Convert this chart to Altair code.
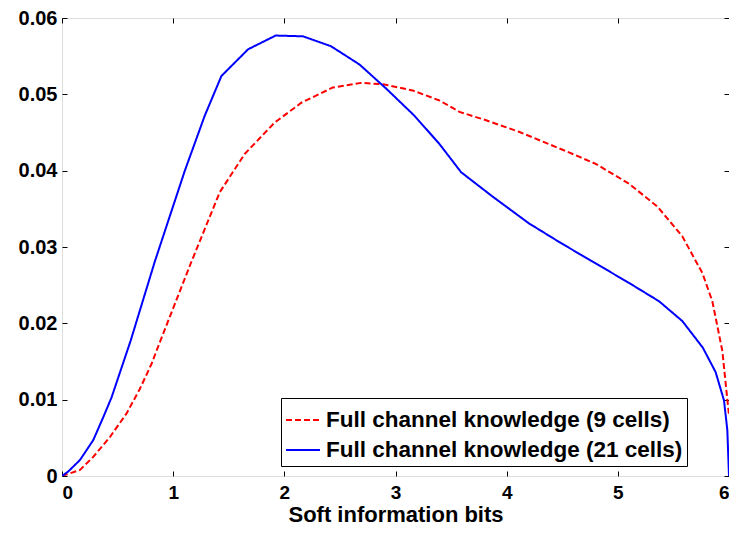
import altair as alt
import pandas as pd

# Red dashed series: Full channel knowledge (9 cells)
red_x = [0.0, 0.162, 0.281, 0.431, 0.581, 0.70, 0.806, 0.874, 1.165, 1.42, 1.644, 1.913,
         2.153, 2.437, 2.69, 2.9, 3.155, 3.395, 3.575, 3.815, 4.11, 4.56, 4.80,
         5.10, 5.356, 5.58, 5.76, 5.85, 5.94, 5.985, 6.0]
red_y = [0.0, 0.0008, 0.0025, 0.0051, 0.0082, 0.0114, 0.0147, 0.0173, 0.0281, 0.0372,
         0.0422, 0.0463, 0.0489, 0.0509, 0.0515, 0.0513, 0.0505, 0.0492, 0.0477,
         0.0466, 0.0451, 0.0424, 0.0409, 0.0383, 0.0353, 0.0314, 0.0266, 0.0229,
         0.0164, 0.0100, 0.0080]

# Blue solid series: Full channel knowledge (21 cells)
blue_x = [0.0, 0.057, 0.162, 0.281, 0.371, 0.446, 0.536, 0.617, 0.835, 1.105, 1.284,
          1.434, 1.674, 1.922, 2.168, 2.42, 2.677, 2.92, 3.17, 3.395, 3.59, 3.874,
          4.2, 4.49, 5.10, 5.37, 5.58, 5.765, 5.88, 5.955, 5.985, 6.0]
blue_y = [0.0, 0.0006, 0.0021, 0.0047, 0.0077, 0.0103, 0.0142, 0.0177, 0.0281, 0.0400,
          0.0472, 0.0524, 0.0559, 0.0577, 0.0576, 0.0563, 0.0539, 0.0507, 0.0472,
          0.0435, 0.0398, 0.0366, 0.0331, 0.0305, 0.0253, 0.0229, 0.0203, 0.0168,
          0.0136, 0.0099, 0.0060, 0.0]

series_names = ["Full channel knowledge (9 cells)", "Full channel knowledge (21 cells)"]
series_colors = ["#ff0000", "#0000ff"]
x_ticks = [0, 1, 2, 3, 4, 5, 6]
y_ticks = [0, 0.01, 0.02, 0.03, 0.04, 0.05, 0.06]

rows = []
for i, (xs, ys) in enumerate([(red_x, red_y), (blue_x, blue_y)]):
    for j, (a, b) in enumerate(zip(xs, ys)):
        rows.append({"x": a, "y": b, "series": series_names[i], "order": j})
df = pd.DataFrame(rows)

FONT = "Liberation Sans"

xscale = alt.Scale(domain=[0, 6], nice=False, zero=False)
yscale = alt.Scale(domain=[0, 0.06], nice=False)

base_axis = dict(grid=False, domain=False, ticks=True, tickSize=5, tickColor="black",
                 tickWidth=1, offset=-5, labelFont=FONT,
                 labelFontWeight="bold", labelColor="black")

lines = alt.Chart(df).mark_line(strokeWidth=2, clip=True).encode(
    x=alt.X("x:Q", scale=xscale,
            axis=alt.Axis(orient="bottom", values=x_ticks, labelPadding=7,
                          labelFontSize=19,
                          title="Soft information bits", titleFont=FONT,
                          titleFontSize=22, titleFontWeight="bold",
                          titleColor="black", titleBaseline="alphabetic",
                          titleY=50, **base_axis)),
    y=alt.Y("y:Q", scale=yscale,
            axis=alt.Axis(orient="left", values=y_ticks, labelPadding=5,
                          labelFontSize=20,
                          format="~g", title=None, **base_axis)),
    color=alt.Color("series:N",
                    scale=alt.Scale(domain=series_names, range=series_colors),
                    legend=alt.Legend(title=None, orient="none", legendX=219, legendY=380,
                                      symbolType="stroke", symbolSize=1156,
                                      symbolStrokeWidth=2, labelFont=FONT,
                                      labelFontSize=22.5, labelFontWeight="bold",
                                      labelColor="black", labelOffset=5,
                                      rowPadding=-1, padding=4,
                                      strokeColor="black", fillColor="white",
                                      labelLimit=500)),
    strokeDash=alt.StrokeDash("series:N",
                              scale=alt.Scale(domain=series_names, range=[[6, 3], [1, 0]]),
                              legend=alt.Legend(title=None)),
    order="order:Q",
)

frame_axis = dict(grid=False, domain=False, ticks=True, tickSize=5, tickColor="black",
                  tickWidth=1, offset=-5, labels=False, title=None)

mirror = alt.Chart(df).mark_line(strokeOpacity=0).encode(
    x=alt.X("x:Q", scale=xscale, axis=alt.Axis(orient="top", values=x_ticks, **frame_axis)),
    y=alt.Y("y:Q", scale=yscale, axis=alt.Axis(orient="right", values=y_ticks, **frame_axis)),
    detail="series:N",
)

chart = alt.layer(lines, mirror).resolve_axis(x="independent", y="independent").properties(
    width=667, height=458,
    autosize=alt.AutoSizeParams(type="none"),
    padding={"left": 54, "top": 10, "right": 0, "bottom": 49},
).configure_view(stroke="black", strokeWidth=1).configure(background="white")

chart.save("out.html", embed_options={"renderer": "svg", "actions": False})
